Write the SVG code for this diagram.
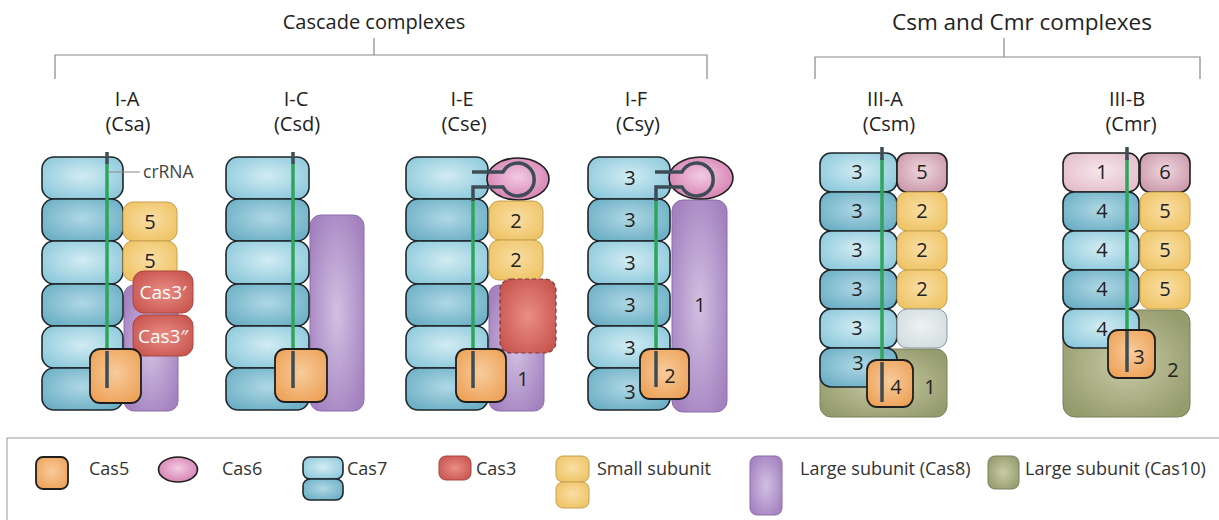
<svg xmlns="http://www.w3.org/2000/svg" width="1219" height="520" viewBox="0 0 1219 520">
  <defs>
    <radialGradient id="gC7a" cx="50%" cy="45%" r="60%"><stop offset="0" stop-color="#d2ecf3"/><stop offset="1" stop-color="#8fcadc"/></radialGradient>
    <radialGradient id="gC7b" cx="50%" cy="45%" r="60%"><stop offset="0" stop-color="#afd8e5"/><stop offset="1" stop-color="#6eb0c6"/></radialGradient>
    <radialGradient id="gC5" cx="50%" cy="45%" r="60%"><stop offset="0" stop-color="#f7cc9c"/><stop offset="1" stop-color="#eea35a"/></radialGradient>
    <radialGradient id="gSS" cx="50%" cy="45%" r="60%"><stop offset="0" stop-color="#f9dea4"/><stop offset="1" stop-color="#efc466"/></radialGradient>
    <radialGradient id="gLS" cx="50%" cy="50%" r="60%"><stop offset="0" stop-color="#d2c0e2"/><stop offset="1" stop-color="#a482c0"/></radialGradient>
    <radialGradient id="gC3" cx="50%" cy="50%" r="60%"><stop offset="0" stop-color="#ea8e84"/><stop offset="1" stop-color="#c95550"/></radialGradient>
    <radialGradient id="gC6" cx="50%" cy="45%" r="60%"><stop offset="0" stop-color="#f3cbe2"/><stop offset="1" stop-color="#d47cb0"/></radialGradient>
    <radialGradient id="gC10" cx="50%" cy="50%" r="60%"><stop offset="0" stop-color="#c9cba6"/><stop offset="1" stop-color="#949b6c"/></radialGradient>
    <radialGradient id="gMv" cx="50%" cy="45%" r="60%"><stop offset="0" stop-color="#eed6de"/><stop offset="1" stop-color="#cc9aac"/></radialGradient>
    <radialGradient id="gPk" cx="50%" cy="45%" r="60%"><stop offset="0" stop-color="#f6e6eb"/><stop offset="1" stop-color="#e4bfcb"/></radialGradient>
    <radialGradient id="gGr" cx="50%" cy="45%" r="60%"><stop offset="0" stop-color="#eef2f3"/><stop offset="1" stop-color="#d3dde0"/></radialGradient>
  </defs>
  <style>
    text { font-family: "Open Sans", "Noto Sans", "Liberation Sans", sans-serif; }
    .c7a { fill: url(#gC7a); stroke: #1e262b; stroke-width: 1.6; }
    .c7b { fill: url(#gC7b); stroke: #1e262b; stroke-width: 1.6; }
    .c5 { fill: url(#gC5); stroke: #1e1e1e; stroke-width: 1.8; }
    .ss { fill: url(#gSS); stroke: #c7a04e; stroke-width: 1; }
    .ls { fill: url(#gLS); stroke: #8d6dac; stroke-width: 1; }
    .c3 { fill: url(#gC3); stroke: #a9463f; stroke-width: 1; }
    .c3d { fill: url(#gC3); stroke: #7a3a36; stroke-width: 1.2; stroke-dasharray: 4 3; }
    .c6 { fill: url(#gC6); stroke: #1e1e1e; stroke-width: 1.6; }
    .c10 { fill: url(#gC10); stroke: #7b8160; stroke-width: 1; }
    .mv { fill: url(#gMv); stroke: #1e1e1e; stroke-width: 1.6; }
    .pk { fill: url(#gPk); stroke: #1e1e1e; stroke-width: 1.6; }
    .gr { fill: url(#gGr); stroke: #8a979c; stroke-width: 1; }
    .rna { stroke: #2ea65a; stroke-width: 3.5; fill: none; }
    .tip { stroke: #3e4c56; stroke-width: 3.5; fill: none; }
    .num { font-size: 20px; fill: #222; text-anchor: middle; }
    .wt { font-size: 19px; fill: #fff; text-anchor: middle; }
    .hd { font-size: 20px; fill: #222; text-anchor: middle; }
    .lg { font-size: 18px; fill: #333; }
    .br { stroke: #888; stroke-width: 1.2; fill: none; }
  </style>

  <!-- headings and brackets -->
  <g id="connectors">
    <path class="br" d="M374 38 V55 M55 79 V55 H707 V79"/>
    <path class="br" d="M1004 38 V57 M815 79 V57 H1200 V79"/>
  </g>
  <g id="headings">
    <text class="hd" x="374" y="29">Cascade complexes</text>
    <text class="hd" x="1022" y="30" style="font-size:22.5px">Csm and Cmr complexes</text>
    <text class="hd" x="127" y="106">I-A</text>
    <text class="hd" x="128" y="131">(Csa)</text>
    <text class="hd" x="296" y="106">I-C</text>
    <text class="hd" x="297" y="131">(Csd)</text>
    <text class="hd" x="462" y="106">I-E</text>
    <text class="hd" x="464" y="131">(Cse)</text>
    <text class="hd" x="636" y="106">I-F</text>
    <text class="hd" x="638" y="131">(Csy)</text>
    <text class="hd" x="885" y="106">III-A</text>
    <text class="hd" x="889" y="131">(Csm)</text>
    <text class="hd" x="1127" y="106">III-B</text>
    <text class="hd" x="1131" y="131">(Cmr)</text>
  </g>

  <!-- Type I-A (Csa) -->
  <g id="complex-IA">
    <rect class="ls" x="124" y="285" width="54" height="126" rx="10"/>
    <rect class="c7a" x="42" y="157" width="81" height="42" rx="12"/>
    <rect class="c7b" x="42" y="199" width="81" height="42" rx="12"/>
    <rect class="c7a" x="42" y="241" width="81" height="43" rx="12"/>
    <rect class="c7b" x="42" y="284" width="81" height="42" rx="12"/>
    <rect class="c7a" x="42" y="326" width="81" height="42" rx="12"/>
    <rect class="c7b" x="42" y="368" width="81" height="42" rx="12"/>
    <rect class="ss" x="123" y="202" width="54" height="39" rx="10"/>
    <rect class="ss" x="123" y="241" width="54" height="40" rx="10"/>
    <text class="num" x="150" y="229">5</text>
    <text class="num" x="150" y="268">5</text>
    <rect class="c3" x="133" y="271" width="60" height="42" rx="11"/>
    <rect class="c3" x="133" y="315" width="60" height="41" rx="11"/>
    <text class="wt" x="163" y="299">Cas3′</text>
    <text class="wt" x="163" y="343">Cas3″</text>
    <line class="rna" x1="107" y1="163" x2="107" y2="352"/>
    <line class="tip" x1="107" y1="152" x2="107" y2="164"/>
    <rect class="c5" x="90" y="349" width="51" height="54" rx="10"/>
    <line class="tip" x1="107" y1="351" x2="107" y2="388"/>
    <line x1="108" y1="172" x2="140" y2="172" stroke="#888" stroke-width="1"/>
    <text x="143" y="178" fill="#444" style="font-size:17.5px">crRNA</text>
  </g>

  <!-- Type I-C (Csd) -->
  <g id="complex-IC">
    <rect class="ls" x="310" y="215" width="54" height="196" rx="11"/>
    <rect class="c7a" x="226" y="157" width="83" height="42" rx="12"/>
    <rect class="c7b" x="226" y="199" width="83" height="42" rx="12"/>
    <rect class="c7a" x="226" y="241" width="83" height="43" rx="12"/>
    <rect class="c7b" x="226" y="284" width="83" height="42" rx="12"/>
    <rect class="c7a" x="226" y="326" width="83" height="42" rx="12"/>
    <rect class="c7b" x="226" y="368" width="83" height="42" rx="12"/>
    <line class="rna" x1="293" y1="163" x2="293" y2="352"/>
    <line class="tip" x1="293" y1="152" x2="293" y2="164"/>
    <rect class="c5" x="275" y="349" width="52" height="53" rx="10"/>
    <line class="tip" x1="293" y1="351" x2="293" y2="388"/>
  </g>

  <!-- Type I-E (Cse) -->
  <g id="complex-IE">
    <rect class="ls" x="489" y="285" width="55" height="126" rx="10"/>
    <rect class="c7a" x="406" y="157" width="82" height="42" rx="12"/>
    <rect class="c7b" x="406" y="199" width="82" height="42" rx="12"/>
    <rect class="c7a" x="406" y="241" width="82" height="43" rx="12"/>
    <rect class="c7b" x="406" y="284" width="82" height="42" rx="12"/>
    <rect class="c7a" x="406" y="326" width="82" height="42" rx="12"/>
    <rect class="c7b" x="406" y="368" width="82" height="42" rx="12"/>
    <ellipse class="c6" cx="518" cy="179" rx="31" ry="21"/>
    <rect class="ss" x="489" y="201" width="54" height="39" rx="10"/>
    <rect class="ss" x="489" y="240" width="54" height="40" rx="10"/>
    <text class="num" x="516" y="228">2</text>
    <text class="num" x="516" y="267">2</text>
    <rect class="c3d" x="500" y="279" width="56" height="74" rx="11"/>
    <text class="num" x="523" y="386">1</text>
    <line class="rna" x1="473" y1="199" x2="473" y2="352"/>
    <path class="tip" d="M472 172 H503 A16.5 16.5 0 1 1 503 187 H473 V201"/>
    <rect class="c5" x="456" y="349" width="50" height="53" rx="10"/>
    <line class="tip" x1="473" y1="351" x2="473" y2="388"/>
  </g>

  <!-- Type I-F (Csy) -->
  <g id="complex-IF">
    <rect class="ls" x="672" y="200" width="55" height="212" rx="11"/>
    <rect class="c7a" x="588" y="157" width="82" height="42" rx="12"/>
    <rect class="c7b" x="588" y="199" width="82" height="42" rx="12"/>
    <rect class="c7a" x="588" y="241" width="82" height="43" rx="12"/>
    <rect class="c7b" x="588" y="284" width="82" height="42" rx="12"/>
    <rect class="c7a" x="588" y="326" width="82" height="42" rx="12"/>
    <rect class="c7b" x="588" y="368" width="82" height="42" rx="12"/>
    <ellipse class="c6" cx="701" cy="178" rx="32" ry="21"/>
    <text class="num" x="630" y="185">3</text>
    <text class="num" x="630" y="227">3</text>
    <text class="num" x="630" y="270">3</text>
    <text class="num" x="630" y="312">3</text>
    <text class="num" x="630" y="355">3</text>
    <text class="num" x="630" y="399">3</text>
    <text class="num" x="700" y="312">1</text>
    <line class="rna" x1="656" y1="199" x2="656" y2="352"/>
    <path class="tip" d="M655 172 H682 A16.5 16.5 0 1 1 682 187 H656 V201"/>
    <rect class="c5" x="640" y="349" width="49" height="50" rx="10"/>
    <line class="tip" x1="656" y1="351" x2="656" y2="387"/>
    <text class="num" x="670" y="383">2</text>
  </g>

  <!-- Type III-A (Csm) -->
  <g id="complex-IIIA">
    <rect class="c10" x="820" y="349" width="127" height="68" rx="11"/>
    <rect class="c7a" x="820" y="153" width="77" height="39" rx="11"/>
    <rect class="c7b" x="820" y="192" width="77" height="39" rx="11"/>
    <rect class="c7a" x="820" y="231" width="77" height="39" rx="11"/>
    <rect class="c7b" x="820" y="270" width="77" height="39" rx="11"/>
    <rect class="c7a" x="820" y="309" width="77" height="39" rx="11"/>
    <rect class="c7b" x="820" y="348" width="77" height="39" rx="11"/>
    <rect class="mv" x="897" y="153" width="50" height="39" rx="10"/>
    <rect class="ss" x="897" y="192" width="50" height="39" rx="10"/>
    <rect class="ss" x="897" y="231" width="50" height="39" rx="10"/>
    <rect class="ss" x="897" y="270" width="50" height="39" rx="10"/>
    <rect class="gr" x="897" y="309" width="50" height="39" rx="10"/>
    <text class="num" x="857" y="179">3</text>
    <text class="num" x="857" y="218">3</text>
    <text class="num" x="857" y="257">3</text>
    <text class="num" x="857" y="296">3</text>
    <text class="num" x="857" y="335">3</text>
    <text class="num" x="858" y="370">3</text>
    <text class="num" x="922" y="179">5</text>
    <text class="num" x="922" y="218">2</text>
    <text class="num" x="922" y="257">2</text>
    <text class="num" x="922" y="296">2</text>
    <text class="num" x="930" y="394">1</text>
    <line class="rna" x1="882" y1="158" x2="882" y2="363"/>
    <line class="tip" x1="882" y1="147" x2="882" y2="160"/>
    <rect class="c5" x="867" y="360" width="46" height="47" rx="10"/>
    <line class="tip" x1="882" y1="362" x2="882" y2="402"/>
    <text class="num" x="896" y="394">4</text>
  </g>

  <!-- Type III-B (Cmr) -->
  <g id="complex-IIIB">
    <rect class="c10" x="1063" y="310" width="127" height="107" rx="12"/>
    <rect class="pk" x="1063" y="153" width="76" height="39" rx="11"/>
    <rect class="c7b" x="1063" y="192" width="76" height="39" rx="11"/>
    <rect class="c7a" x="1063" y="231" width="76" height="39" rx="11"/>
    <rect class="c7b" x="1063" y="270" width="76" height="39" rx="11"/>
    <rect class="c7a" x="1063" y="309" width="76" height="39" rx="11"/>
    <rect class="mv" x="1140" y="153" width="50" height="39" rx="10"/>
    <rect class="ss" x="1140" y="192" width="50" height="39" rx="10"/>
    <rect class="ss" x="1140" y="231" width="50" height="39" rx="10"/>
    <rect class="ss" x="1140" y="270" width="50" height="39" rx="10"/>
    <text class="num" x="1102" y="179">1</text>
    <text class="num" x="1102" y="218">4</text>
    <text class="num" x="1102" y="257">4</text>
    <text class="num" x="1102" y="296">4</text>
    <text class="num" x="1102" y="336">4</text>
    <text class="num" x="1165" y="179">6</text>
    <text class="num" x="1165" y="218">5</text>
    <text class="num" x="1165" y="257">5</text>
    <text class="num" x="1165" y="296">5</text>
    <text class="num" x="1173" y="377">2</text>
    <line class="rna" x1="1127" y1="158" x2="1127" y2="332"/>
    <line class="tip" x1="1127" y1="147" x2="1127" y2="160"/>
    <rect class="c5" x="1108" y="330" width="47" height="48" rx="10"/>
    <line class="tip" x1="1127" y1="331" x2="1127" y2="372"/>
    <text class="num" x="1139" y="364">3</text>
  </g>

  <!-- key -->
  <g id="legend">
    <rect x="7" y="438" width="1240" height="100" fill="none" stroke="#999" stroke-width="1"/>
    <rect class="c5" x="36" y="457" width="32" height="32" rx="7"/>
    <text class="lg" x="89" y="475">Cas5</text>
    <ellipse class="c6" cx="178" cy="469.5" rx="19.5" ry="12.5"/>
    <text class="lg" x="222" y="475">Cas6</text>
    <rect class="c7a" x="303" y="457" width="40" height="22" rx="7"/>
    <rect class="c7b" x="303" y="479" width="40" height="21" rx="7"/>
    <text class="lg" x="347" y="475">Cas7</text>
    <rect class="c3" x="439" y="456" width="32" height="24" rx="7"/>
    <text class="lg" x="476" y="475">Cas3</text>
    <rect class="ss" x="556" y="456" width="33" height="26" rx="7"/>
    <rect class="ss" x="556" y="482" width="33" height="26" rx="7"/>
    <text class="lg" x="597" y="475">Small subunit</text>
    <rect class="ls" x="750" y="456" width="32" height="59" rx="7"/>
    <text class="lg" x="800" y="475">Large subunit (Cas8)</text>
    <rect class="c10" x="988" y="456" width="31" height="33" rx="7"/>
    <text class="lg" x="1025" y="475">Large subunit (Cas10)</text>
  </g>
</svg>
